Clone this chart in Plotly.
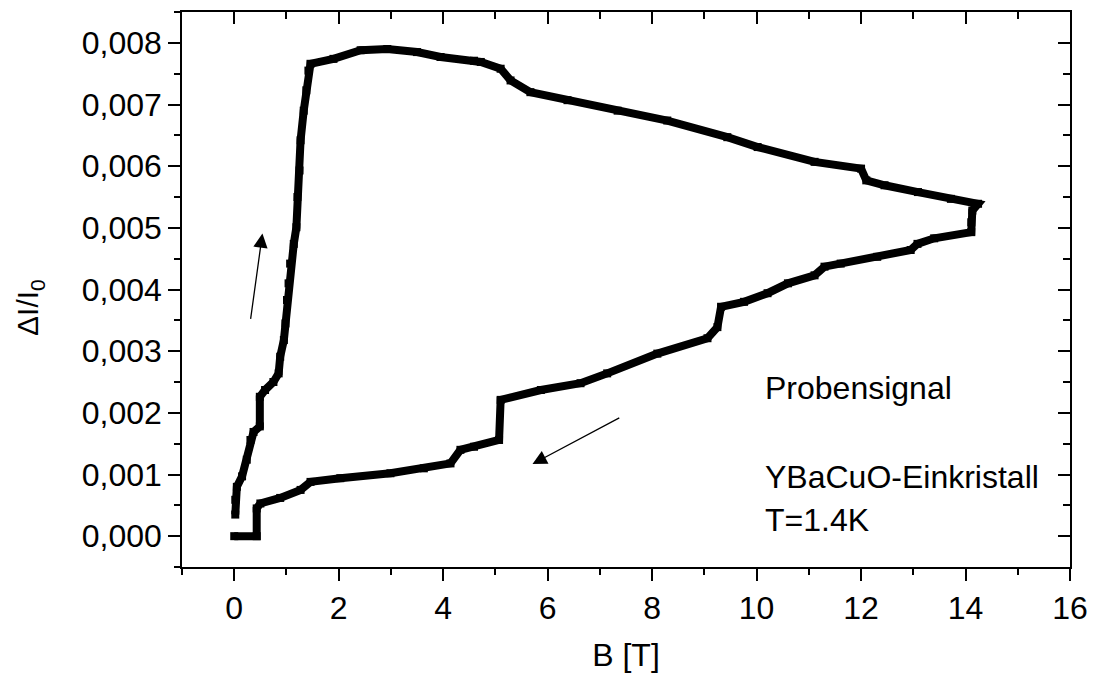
import plotly.graph_objects as go

# Upward branch (field increasing)
b_up = [0.02, 0.02, 0.05, 0.15, 0.24, 0.31, 0.37, 0.49, 0.49, 0.59, 0.75, 0.85, 0.88,
        0.95, 0.98, 1.01, 1.04, 1.07, 1.14, 1.19, 1.21, 1.25, 1.27, 1.33, 1.38, 1.42, 1.46]
s_up = [0.00035, 0.00059, 0.00080, 0.00097, 0.00124, 0.00156, 0.00169, 0.00178, 0.00226,
        0.00237, 0.00250, 0.00264, 0.00291, 0.00318, 0.00345, 0.00383, 0.00410, 0.00442,
        0.00474, 0.00501, 0.00550, 0.00593, 0.00642, 0.00690, 0.00723, 0.00755, 0.00766]

# Upper branch towards maximum field
b_top = [1.90, 2.42, 2.93, 3.50, 3.95, 4.59, 4.72, 5.10, 5.29, 5.67, 6.38, 7.34, 8.29,
         9.44, 10.02, 11.11, 12.00, 12.10, 12.45, 13.09, 13.72, 14.24, 14.13]
s_top = [0.00774, 0.00788, 0.00790, 0.00785, 0.00777, 0.00771, 0.00769, 0.00758, 0.00739,
         0.00720, 0.00707, 0.00690, 0.00674, 0.00647, 0.00631, 0.00607, 0.00596, 0.00577,
         0.00569, 0.00558, 0.00547, 0.00539, 0.00528]

# Lower branch (field decreasing)
b_down = [14.11, 14.11, 13.40, 13.08, 12.95, 12.31, 11.61, 11.30, 11.11, 10.60, 10.21,
          9.76, 9.32, 9.25, 9.06, 8.10, 7.14, 6.63, 5.87, 5.10, 5.07, 4.59, 4.33, 4.14,
          3.63, 2.99, 2.03, 1.46, 1.27, 0.88, 0.50, 0.43, 0.43, 0.0]
s_down = [0.00509, 0.00493, 0.00483, 0.00474, 0.00464, 0.00453, 0.00442, 0.00437, 0.00423,
          0.00410, 0.00394, 0.00380, 0.00372, 0.00339, 0.00321, 0.00296, 0.00264, 0.00248,
          0.00237, 0.00221, 0.00156, 0.00145, 0.00140, 0.00118, 0.00110, 0.00102, 0.00094,
          0.00088, 0.00075, 0.00062, 0.00053, 0.00045, 0.0, 0.0]

x_ticks = [0, 2, 4, 6, 8, 10, 12, 14, 16]
y_ticks = [0.000, 0.001, 0.002, 0.003, 0.004, 0.005, 0.006, 0.007, 0.008]

FONT = "Liberation Sans, Arial, sans-serif"

b_all = b_up + b_top + b_down
s_all = s_up + s_top + s_down

fig = go.Figure()
fig.add_trace(go.Scatter(
    x=b_all, y=s_all, mode="lines+markers",
    line=dict(color="black", width=8),
    marker=dict(symbol="square", size=8, color="black"),
    showlegend=False, hoverinfo="x+y"))
# helper trace for the mirrored (top/right) axes
fig.add_trace(go.Scatter(x=[None], y=[None], xaxis="x2", yaxis="y2",
                         showlegend=False, hoverinfo="skip"))

xr = [-1, 16]
yr = [-0.0005, 0.0085]

axis_common = dict(showgrid=False, zeroline=False, showline=True,
                   linecolor="black", linewidth=1.5, tickcolor="black",
                   tickwidth=1.5, automargin=False)

fig.update_layout(
    width=1095, height=677,
    margin=dict(l=182, r=25, t=12, b=110),
    paper_bgcolor="white", plot_bgcolor="white",
    separators=",.",
    font=dict(family=FONT, size=32, color="black"),
    xaxis=dict(range=xr, tickmode="array", tickvals=x_ticks,
               ticks="outside", ticklen=12,
               minor=dict(dtick=1, tick0=0, ticks="outside", ticklen=6,
                          tickcolor="black", tickwidth=1.5),
               title=dict(text="B [T]", font=dict(size=32), standoff=18),
               **axis_common),
    yaxis=dict(range=yr, tickmode="array", tickvals=y_ticks, tickformat=".3f",
               ticks="outside", ticklen=12,
               minor=dict(dtick=0.0005, tick0=0, ticks="outside", ticklen=6,
                          tickcolor="black", tickwidth=1.5),
               **axis_common),
    xaxis2=dict(range=xr, overlaying="x", side="top", anchor="y",
                tickmode="array", tickvals=x_ticks, showticklabels=False,
                ticks="inside", ticklen=12,
                minor=dict(dtick=1, tick0=0, ticks="inside", ticklen=7,
                           tickcolor="black", tickwidth=1.5),
                **axis_common),
    yaxis2=dict(range=yr, overlaying="y", side="right", anchor="x",
                tickmode="array", tickvals=y_ticks, showticklabels=False,
                ticks="inside", ticklen=12,
                minor=dict(dtick=0.0005, tick0=0, ticks="inside", ticklen=7,
                           tickcolor="black", tickwidth=1.5),
                **axis_common),
)

# y-axis title (placed as rotated text, slightly below the axis centre as in the original)
fig.add_annotation(x=-0.171, y=0.467, xref="paper", yref="paper",
                   text="ΔI/I<sub>0</sub>", textangle=-90, showarrow=False,
                   xanchor="center", yanchor="middle",
                   font=dict(family=FONT, size=30, color="black"))

# arrows indicating sweep direction
fig.add_annotation(x=0.54, y=0.00491, ax=0.31, ay=0.00350, xref="x", yref="y",
                   axref="x", ayref="y", text="", showarrow=True,
                   arrowhead=2, arrowsize=2.2, arrowwidth=1.3, arrowcolor="black")
fig.add_annotation(x=5.71, y=0.00117, ax=7.40, ay=0.00193, xref="x", yref="y",
                   axref="x", ayref="y", text="", showarrow=True,
                   arrowhead=2, arrowsize=2.2, arrowwidth=1.3, arrowcolor="black")

labels = ["Probensignal", "YBaCuO-Einkristall", "T=1.4K"]
label_y = [0.00240, 0.00096, 0.00026]
for t, yy in zip(labels, label_y):
    fig.add_annotation(x=10.12, y=yy, xref="x", yref="y", text=t, showarrow=False,
                       xanchor="left", yanchor="middle",
                       font=dict(family=FONT, size=32, color="black"))

fig.write_html("out.html")
